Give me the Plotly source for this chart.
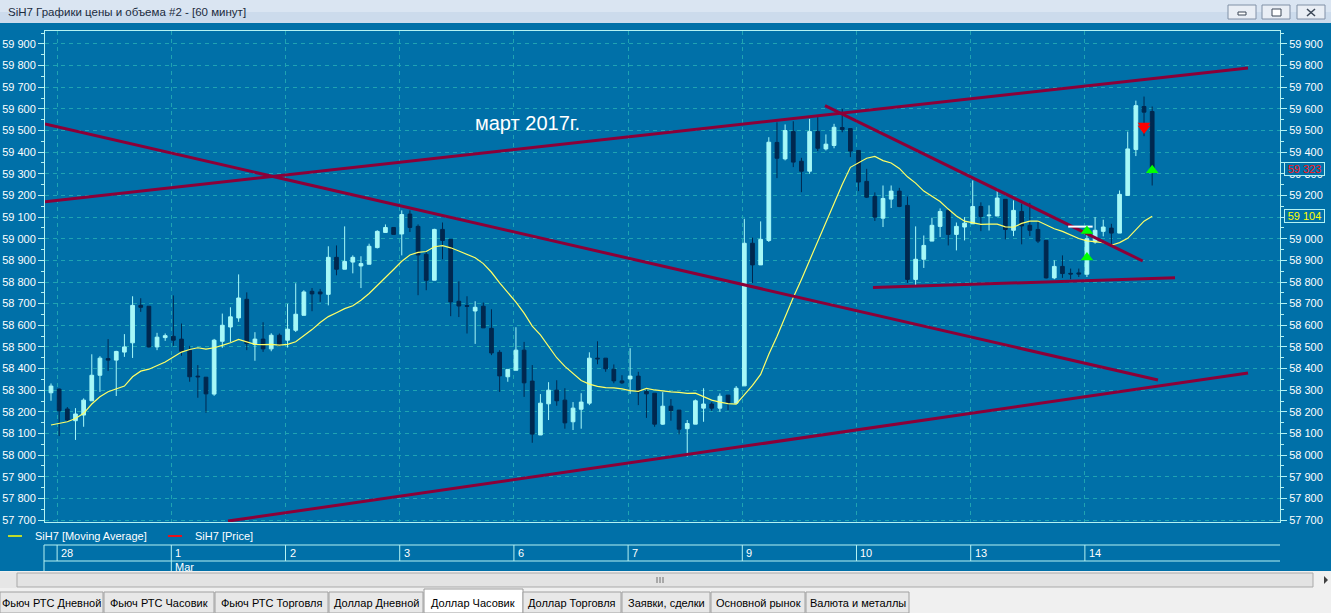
import plotly.graph_objects as go

W, H = 1331, 613

# ---------------- data (hourly candles, SiH7) ----------------
opens = [58288, 58305, 58213, 58159, 58185, 58251, 58369, 58446, 58439, 58476,
         58519, 58692, 58688, 58500, 58543, 58549, 58536, 58485, 58365, 58360,
         58282, 58526, 58592, 58634, 58720, 58511, 58536, 58491, 58554, 58531,
         58577, 58646, 58757, 58754, 58743, 58914, 58859, 58892, 58874, 58882,
         58959, 59029, 59052, 59022, 59114, 59057, 58928, 58808, 59043, 58997,
         58711, 58691, 58666, 58688, 58586, 58475, 58362, 58392, 58485, 58342,
         58093, 58237, 58300, 58254, 58154, 58212, 58240, 58448, 58448, 58397,
         58343, 58352, 58365, 58294, 58286, 58143, 58226, 58208, 58122, 58143,
         58217, 58236, 58217, 58277, 58240, 58320, 58979, 58879, 58992, 59445,
         59369, 59495, 59358, 59312, 59495, 59415, 59431, 59514, 59509, 59408,
         59265, 59195, 59095, 59183, 59220, 59154, 58812, 58905, 58989, 59057,
         59131, 59020, 59054, 59069, 59149, 59106, 59105, 59182, 59039, 59126,
         59062, 59043, 58992, 58819, 58872, 58840, 58842, 58836, 58985, 59034,
         59049, 59026, 59200, 59412, 59611, 59588]
highs = [58331, 58308, 58222, 58217, 58262, 58466, 58457, 58536, 58482, 58559,
         58734, 58725, 58688, 58565, 58562, 58738, 58608, 58505, 58416, 58360,
         58537, 58654, 58683, 58835, 58752, 58568, 58614, 58563, 58562, 58699,
         58794, 58762, 58772, 58768, 58965, 58969, 59057, 58923, 58919, 58977,
         59039, 59066, 59052, 59131, 59131, 59066, 58939, 59046, 59075, 58997,
         58803, 58734, 58711, 58705, 58674, 58485, 58396, 58591, 58523, 58416,
         58282, 58337, 58346, 58309, 58245, 58286, 58475, 58526, 58448, 58419,
         58369, 58494, 58385, 58309, 58286, 58291, 58259, 58208, 58162, 58257,
         58309, 58245, 58285, 58277, 58319, 59092, 59005, 59080, 59469, 59538,
         59528, 59543, 59374, 59554, 59562, 59482, 59531, 59600, 59509, 59408,
         59323, 59214, 59246, 59246, 59235, 59195, 59057, 59015, 59097, 59140,
         59131, 59075, 59100, 59269, 59168, 59154, 59231, 59182, 59177, 59162,
         59166, 59085, 58992, 58900, 58923, 58862, 58862, 59039, 59100, 59088,
         59069, 59223, 59495, 59638, 59657, 59611]
lows = [58251, 58088, 58154, 58070, 58131, 58251, 58292, 58389, 58273, 58454,
        58449, 58662, 58497, 58485, 58528, 58505, 58459, 58339, 58265, 58196,
        58274, 58496, 58523, 58616, 58485, 58436, 58477, 58480, 58505, 58497,
        58569, 58646, 58665, 58708, 58692, 58831, 58859, 58840, 58772, 58882,
        58955, 59029, 59020, 58923, 59031, 58739, 58762, 58808, 58905, 58642,
        58638, 58562, 58514, 58588, 58462, 58292, 58339, 58392, 58269, 58057,
        58093, 58162, 58228, 58122, 58116, 58122, 58231, 58420, 58385, 58332,
        58329, 58283, 58231, 58172, 58131, 58140, 58159, 58096, 57993, 58143,
        58154, 58205, 58200, 58208, 58240, 58320, 58795, 58879, 58985, 59280,
        59362, 59331, 59215, 59300, 59405, 59408, 59418, 59492, 59377, 59220,
        59188, 59082, 59054, 59142, 59146, 58796, 58782, 58865, 58989, 59008,
        58969, 58946, 58992, 59069, 59035, 59038, 59105, 58997, 59012, 58974,
        59012, 58980, 58816, 58813, 58819, 58813, 58823, 58823, 58977, 59011,
        58962, 59026, 59200, 59382, 59474, 59246]
closes = [58319, 58205, 58162, 58190, 58254, 58369, 58448, 58439, 58479, 58500,
          58692, 58683, 58500, 58545, 58552, 58531, 58480, 58362, 58362, 58283,
          58531, 58600, 58639, 58726, 58516, 58536, 58491, 58554, 58505, 58582,
          58651, 58754, 58745, 58745, 58914, 58859, 58895, 58914, 58885, 58965,
          59034, 59052, 59020, 59112, 59052, 58925, 58808, 59043, 58992, 58708,
          58689, 58688, 58683, 58588, 58472, 58366, 58396, 58485, 58334, 58097,
          58240, 58300, 58251, 58149, 58217, 58245, 58448, 58445, 58399, 58343,
          58334, 58365, 58292, 58283, 58143, 58226, 58205, 58120, 58146, 58251,
          58236, 58217, 58272, 58240, 58309, 58979, 58879, 58997, 59446, 59372,
          59500, 59354, 59312, 59495, 59418, 59437, 59515, 59505, 59405, 59262,
          59192, 59100, 59186, 59220, 59149, 58812, 58905, 58969, 59062, 59126,
          59020, 59057, 59072, 59149, 59103, 59109, 59188, 59043, 59131, 59059,
          59039, 58989, 58819, 58872, 58839, 58837, 58837, 59000, 59039, 59054,
          59026, 59205, 59415, 59615, 59585, 59323]
# 14-period moving average
ma14 = [58139, 58146, 58154, 58169, 58193, 58236, 58270, 58293, 58305, 58319,
        58362, 58388, 58397, 58413, 58430, 58453, 58476, 58488, 58496, 58490,
        58496, 58507, 58519, 58535, 58522, 58512, 58511, 58512, 58508, 58512,
        58524, 58552, 58580, 58613, 58640, 58658, 58677, 58690, 58716, 58747,
        58786, 58821, 58858, 58896, 58925, 58937, 58941, 58963, 58968, 58958,
        58943, 58927, 58912, 58885, 58845, 58796, 58752, 58707, 58656, 58596,
        58556, 58503, 58450, 58410, 58376, 58345, 58328, 58318, 58312, 58311,
        58306, 58298, 58295, 58308, 58301, 58296, 58292, 58290, 58285, 58286,
        58271, 58254, 58245, 58238, 58236, 58280, 58322, 58373, 58466, 58548,
        58640, 58728, 58812, 58901, 58985, 59072, 59161, 59251, 59330, 59350,
        59372, 59380, 59361, 59350, 59325, 59286, 59257, 59220, 59194, 59172,
        59137, 59105, 59081, 59073, 59066, 59067, 59067, 59055, 59053, 59071,
        59081, 59082, 59065, 59046, 59034, 59018, 59001, 58990, 58986, 58982,
        58970, 58982, 59002, 59042, 59081, 59104]
bars = list(range(len(closes)))

day_start_bar = [1, 15, 29, 43, 57, 71, 85, 99, 113, 127]
day_labels = ["28", "1", "2", "3", "6", "7", "9", "10", "13", "14"]
month_start_bar = [15]
month_labels = ["Mar"]

price_ticks = [57700, 57800, 57900, 58000, 58100, 58200, 58300, 58400, 58500, 58600,
               58700, 58800, 58900, 59000, 59100, 59200, 59300, 59400, 59500, 59600,
               59700, 59800, 59900]
price_tick_labels = ["57 700", "57 800", "57 900", "58 000", "58 100", "58 200", "58 300",
                     "58 400", "58 500", "58 600", "58 700", "58 800", "58 900", "59 000",
                     "59 100", "59 200", "59 300", "59 400", "59 500", "59 600", "59 700",
                     "59 800", "59 900"]

# hand-drawn trend lines (bar, price) start/end
trend_bars = [[-0.74, 146.75], [-0.74, 135.71], [21.70, 146.75], [94.89, 133.84], [100.77, 137.8]]
trend_prices = [[59171, 59789], [59530, 58347], [57695, 58379], [59615, 58897], [58774, 58820]]
level_bars = [124.7, 127.7]
level_prices = [59056, 59056]
buy_bars = [127, 127, 135]
buy_prices = [59036, 58913, 59316]
sell_bars = [134, 134]
sell_prices = [59523, 59509]
note_bar, note_price, note_text = 58.4, 59535, "март 2017г."

tabs = ["Фьюч РТС Дневной", "Фьюч РТС Часовик", "Фьюч РТС Торговля", "Доллар Дневной",
        "Доллар Часовик", "Доллар Торговля", "Заявки, сделки", "Основной рынок", "Валюта и металлы"]
tab_edges = [0, 104, 215, 329, 424, 523, 622, 711, 806, 910]
active_tab = 4
title_text = "SiH7 Графики цены и объема #2 - [60 минут]"

# ---------------- style ----------------
BLUE = "#0070A8"
LIGHT = "#A6F8F8"
DARK = "#00284F"
YELLOW = "#FFFF66"
MAROON = "#8B0038"
AXIS = "#B4F2F2"
GRID = "#1FA3B2"
SANS = "Liberation Sans, Arial, sans-serif"

X0, X1 = 45, 1280
Y0, Y1 = 31, 522


def px(x):
    return x / W


def py(y):
    return 1 - y / H


def fmt(v):
    return f"{int(round(v)):,}".replace(",", " ")


fig = go.Figure()
fig.add_trace(go.Candlestick(
    x=bars, open=opens, high=highs, low=lows, close=closes,
    increasing=dict(line=dict(color=LIGHT, width=1), fillcolor=LIGHT),
    decreasing=dict(line=dict(color=DARK, width=1), fillcolor=DARK),
    whiskerwidth=0, showlegend=False, hoverinfo="skip"))
fig.add_trace(go.Scatter(x=bars, y=ma14, mode="lines", line=dict(color=YELLOW, width=1.2),
                         hoverinfo="skip", showlegend=False))
for tb, tp in zip(trend_bars, trend_prices):
    fig.add_trace(go.Scatter(x=tb, y=tp, mode="lines", line=dict(color=MAROON, width=3),
                             hoverinfo="skip", showlegend=False))
fig.add_trace(go.Scatter(x=level_bars, y=level_prices, mode="lines",
                         line=dict(color="white", width=2), hoverinfo="skip", showlegend=False))
fig.add_trace(go.Scatter(x=buy_bars, y=buy_prices, mode="markers",
                         marker=dict(symbol="triangle-up", size=11, color="#00FF00", line=dict(width=0)),
                         hoverinfo="skip", showlegend=False))
fig.add_trace(go.Scatter(x=sell_bars, y=sell_prices, mode="markers",
                         marker=dict(symbol="triangle-down", size=11, color="#FF0000", line=dict(width=0)),
                         hoverinfo="skip", showlegend=False))
fig.add_trace(go.Scatter(x=[bars[-1]], y=[closes[-1]], yaxis="y2", mode="markers",
                         marker=dict(opacity=0), hoverinfo="skip", showlegend=False))

shapes = []
annotations = []


def rect(x0, y0, x1, y1, fill, line=None, lw=1):
    shapes.append(dict(type="rect", xref="paper", yref="paper", x0=px(x0), x1=px(x1),
                       y0=py(y1), y1=py(y0), fillcolor=fill,
                       line=dict(color=line if line else fill, width=lw if line else 0),
                       layer="above"))


def seg(x0, y0, x1, y1, color, lw=1, xref="paper"):
    shapes.append(dict(type="line", xref=xref, yref="paper",
                       x0=px(x0) if xref == "paper" else x0,
                       x1=px(x1) if xref == "paper" else x1,
                       y0=py(y0), y1=py(y1), line=dict(color=color, width=lw), layer="above"))


def text(x, y, s, size=11, color="white", family=SANS, xanchor="left", xref="paper", xshift=0):
    annotations.append(dict(x=px(x) if xref == "paper" else x, y=py(y), xref=xref, yref="paper",
                            text=s, showarrow=False, xanchor=xanchor, yanchor="middle",
                            xshift=xshift, font=dict(size=size, color=color, family=family)))


# title bar
rect(0, 0, W, 12, "#DAE5F2")
rect(0, 12, W, 23, "#CCDBEC")
text(6, 11.5, title_text, size=11.5, color="#1B2B3E")
for bx in (1228, 1262, 1297):
    rect(bx, 5, bx + 28, 19, "#E9EEF5", "#8090A6")
rect(1238, 12, 1246, 15, "#FFFFFF", "#3A4656")
rect(1272, 9, 1281, 16, "#FFFFFF", "#3A4656")
seg(1307, 9, 1315, 16, "#3A4656", 1.5)
seg(1307, 16, 1315, 9, "#3A4656", 1.5)

# legend
seg(8, 536, 22, 536, "#FFFF00", 1.5)
text(33, 536, "SiH7 [Moving Average]", size=11)
seg(168, 536, 182, 536, "#E8101A", 2)
text(193, 536, "SiH7 [Price]", size=11)

# date band
seg(44, 545, X1, 545, AXIS)
seg(44, 561, X1, 561, AXIS)
seg(44, 545, 44, 571, AXIS)
for b, lab in zip(day_start_bar, day_labels):
    seg(b - 0.25, 545, b - 0.25, 561, AXIS, xref="x")
    text(b - 0.25, 553, lab, size=11, xref="x", xshift=2)
for b, lab in zip(month_start_bar, month_labels):
    seg(b - 0.25, 561, b - 0.25, 571, AXIS, xref="x")
    text(b - 0.25, 567, lab, size=11, xref="x", xshift=2)

# scrollbar
rect(0, 571, W, 589, "#F0F0F0")
rect(0, 572, 17, 588, "#E6E6E6")
rect(17, 573, 1313, 587, "#E3E3E3", "#A9A9A9")
for gx in (657, 660, 663):
    seg(gx, 577, gx, 583, "#6E6E6E")
shapes.append(dict(type="path", xref="paper", yref="paper",
                   path=f"M {px(1324)} {py(576)} L {px(1328)} {py(580)} L {px(1324)} {py(584)} Z",
                   fillcolor="#404040", line=dict(width=0), layer="above"))

# tabs
rect(0, 589, W, H, "#F0F0F0")
for i, lab in enumerate(tabs):
    x0, x1 = tab_edges[i], tab_edges[i + 1] - 1
    if i == active_tab:
        rect(x0, 589, x1 + 1, H, "#FFFFFF", "#9A9A9A")
    else:
        rect(x0, 592, x1, H, "#E8E8E8", "#A0A0A0")
    text((x0 + x1) / 2, 603, lab, size=11, color="#000000", xanchor="center")

# note on chart
annotations.append(dict(x=note_bar, y=note_price, xref="x", yref="y", text=note_text,
                        showarrow=False, font=dict(size=20, color="white", family=SANS)))

# last price / MA value boxes on right axis
annotations.append(dict(x=px(1284), y=closes[-1], xref="paper", yref="y", text=fmt(closes[-1]),
                        showarrow=False, xanchor="left", yanchor="middle", width=39, height=12,
                        bgcolor=BLUE, bordercolor=AXIS, borderwidth=1, borderpad=0,
                        font=dict(size=11, color="#FF1010", family=SANS)))
annotations.append(dict(x=px(1284), y=ma14[-1], xref="paper", yref="y", text=fmt(ma14[-1]),
                        showarrow=False, xanchor="left", yanchor="middle", width=39, height=12,
                        bgcolor=BLUE, bordercolor=AXIS, borderwidth=1, borderpad=0,
                        font=dict(size=11, color="#FFFF00", family=SANS)))

minor_ticks = [v + 50 for v in price_ticks]
yrange = [57690.8, 59960]
yaxis_common = dict(
    range=yrange, tickmode="array", tickvals=price_ticks, ticktext=price_tick_labels,
    ticks="outside", ticklen=6, tickwidth=1, tickcolor=AXIS, showline=True, linecolor=AXIS,
    linewidth=1, zeroline=False, fixedrange=True, automargin=False,
    tickfont=dict(size=11, color="white", family=SANS),
    minor=dict(tickmode="array", tickvals=minor_ticks, ticks="outside", ticklen=3,
               tickcolor=AXIS, showgrid=False))

fig.update_layout(
    width=W, height=H, autosize=False,
    margin=dict(l=0, r=0, t=0, b=0, pad=0, autoexpand=False),
    paper_bgcolor=BLUE, plot_bgcolor=BLUE, showlegend=False, hovermode=False,
    boxgap=0.35,
    xaxis=dict(domain=[px(X0), px(X1)], range=[-0.736, 150.67], tickmode="array",
               tickvals=[b - 0.25 for b in day_start_bar], showticklabels=False, ticks="",
               showgrid=True, gridcolor=GRID, griddash="4px,4px", gridwidth=1,
               showline=True, mirror=True, linecolor=AXIS, linewidth=1, zeroline=False,
               automargin=False, rangeslider=dict(visible=False), fixedrange=True),
    yaxis=dict(domain=[py(Y1), py(Y0)], side="left", showgrid=True, gridcolor=GRID,
               griddash="4px,4px", gridwidth=1, **yaxis_common),
    yaxis2=dict(overlaying="y", side="right", anchor="x", showgrid=False, **yaxis_common),
    shapes=shapes, annotations=annotations,
)

page_fix = (
    "document.head.insertAdjacentHTML('beforeend',"
    "'<style>html,body{margin:0;padding:0;overflow:hidden;background:#F0F0F0;}"
    "body>div{margin:0;padding:0;line-height:0;}</style>');"
)
fig.write_html("out.html", include_plotlyjs=True, full_html=True,
               config={"displayModeBar": False, "staticPlot": True},
               post_script=page_fix)
